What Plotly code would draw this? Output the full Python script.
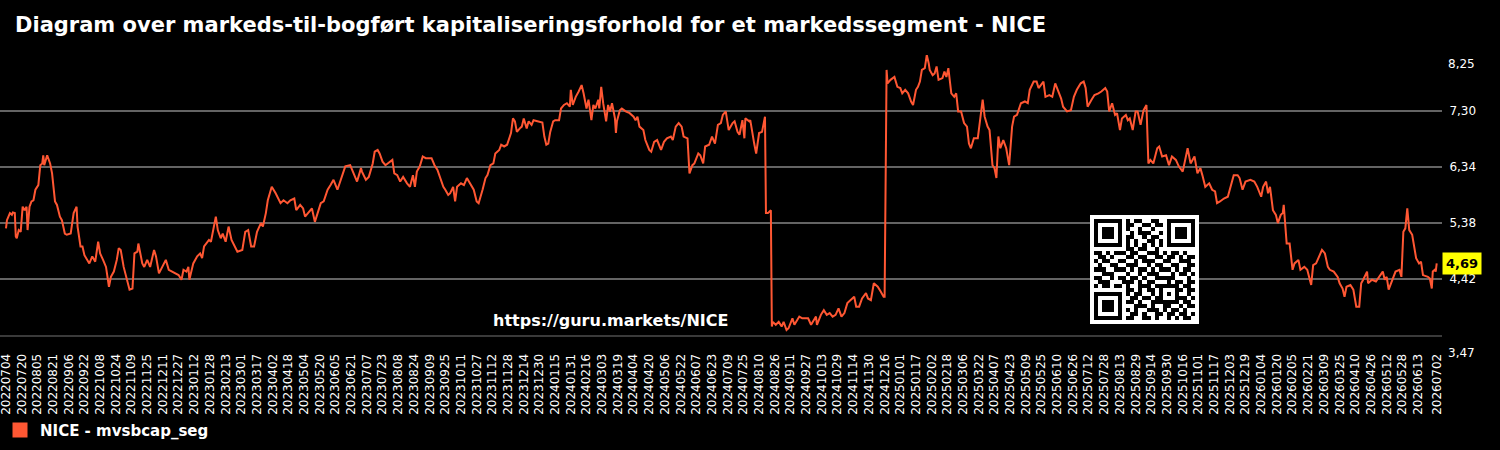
import numpy as np
import pandas as pd
import plotly.graph_objects as go

# ---------------- data ----------------
title_text = "Diagram over markeds-til-bogført kapitaliseringsforhold for et markedssegment - NICE"
series_name = "NICE - mvsbcap_seg"
start_date = "2022-07-04"
end_date = "2026-07-02"

# day offsets from start_date
day_offsets = [
    0, 1, 4, 6, 7, 9, 10, 11, 13, 15,
    17, 19, 21, 22, 24, 26, 28, 30, 33, 35,
    37, 38, 39, 42, 45, 47, 50, 52, 55, 57,
    60, 62, 66, 69, 72, 73, 76, 78, 80, 83,
    85, 88, 91, 94, 96, 99, 102, 105, 107, 110,
    113, 115, 117, 120, 124, 126, 129, 131, 134, 135,
    139, 141, 144, 147, 151, 153, 156, 159, 163, 166,
    169, 173, 176, 179, 181, 184, 186, 187, 189, 191,
    195, 198, 200, 202, 207, 209, 214, 216, 219, 221,
    224, 227, 230, 232, 236, 241, 244, 247, 250, 253,
    256, 260, 262, 265, 267, 271, 275, 280, 283, 287,
    290, 294, 296, 300, 303, 305, 309, 312, 315, 318,
    321, 324, 328, 331, 334, 338, 342, 346, 351, 355,
    358, 361,
    362, 363, 367, 370, 374, 376, 379, 381, 384, 387,
    391, 394, 396, 399, 402, 405, 409, 412, 415, 417,
    419, 422, 425, 428, 434, 437, 440, 443, 446, 448,
    451, 453, 456, 458, 460, 464, 467, 470, 474, 477,
    480, 482, 486, 489, 491, 494, 497, 499, 503, 505,
    508, 511, 515, 517, 519, 521, 524, 526, 528, 531,
    533, 536, 538, 542, 547, 549, 551, 553, 555, 558,
    560, 564, 566, 569, 572, 575, 576, 578, 581, 584,
    587, 589, 592, 594, 597, 599, 601, 604, 605, 607,
    609, 612, 614, 616, 618, 621, 622, 623, 626, 628,
    632, 636, 640, 642, 644, 646, 650, 652, 656, 658,
    661, 664, 668, 671, 674, 678, 680, 683, 686, 689,
    691, 695, 697, 700, 702, 706, 708, 711, 713, 717,
    720, 723, 726, 729,
    731, 734, 737, 741, 743, 746, 748, 751, 753, 754,
    758, 759, 762, 763, 765, 766, 768, 771, 774, 775,
    777, 780, 781, 782, 785, 788, 791, 793, 796, 798,
    802, 804, 809, 812, 818, 821, 826, 827, 831, 834,
    837, 840, 843, 846, 849, 852, 855, 858, 861, 865,
    867, 870, 873, 877, 879, 882, 885, 889, 892, 895,
    896, 898, 899, 902, 906, 909, 912, 914, 917, 920,
    923, 925, 928, 930, 932, 934, 937, 939, 941, 942,
    945, 947, 949, 951, 955, 957, 959, 961, 964, 967,
    969, 971, 974, 977, 980, 982, 984, 987, 991, 994,
    996, 998, 1001, 1003, 1006, 1008, 1010, 1012, 1014, 1017,
    1020, 1023, 1026, 1028, 1031, 1035, 1039, 1042, 1044, 1048,
    1051, 1053, 1058, 1060, 1064, 1067, 1070, 1076, 1078, 1082,
    1086, 1089, 1092, 1096,
    1099, 1101, 1103, 1107, 1110, 1114, 1117, 1121, 1123, 1125,
    1128, 1131, 1133, 1136, 1138, 1142, 1144, 1146, 1149, 1152,
    1154, 1157, 1160, 1163, 1165, 1167, 1170, 1174, 1176, 1179,
    1183, 1186, 1189, 1193, 1196, 1200, 1202, 1205, 1208, 1212,
    1215, 1218, 1220, 1223, 1227, 1230, 1233, 1235, 1238, 1242,
    1246, 1249, 1252, 1256, 1258, 1261, 1264, 1269, 1273, 1276,
    1280, 1282, 1285, 1287, 1289, 1292, 1295, 1297, 1300, 1302,
    1303, 1306, 1309, 1312, 1314, 1318, 1320, 1324, 1327, 1331,
    1333, 1336, 1339, 1342, 1345, 1348, 1350, 1354, 1358, 1360,
    1363, 1365, 1367, 1371, 1374, 1377, 1380, 1382, 1384, 1388,
    1389, 1393, 1397, 1400, 1404, 1406, 1408, 1410, 1414, 1417,
    1421, 1423, 1425, 1427, 1429, 1431, 1434, 1438, 1441, 1443,
    1445, 1450, 1452, 1454, 1455, 1457, 1458, 1459,
]

mvsbcap_seg = [
    5.29, 5.43, 5.55, 5.52, 5.56, 5.55, 5.15, 5.12, 5.26, 5.23,
    5.66, 5.60, 5.66, 5.26, 5.66, 5.75, 5.77, 5.95, 6.03, 6.37,
    6.40, 6.54, 6.37, 6.54, 6.40, 6.23, 5.75, 5.69, 5.49, 5.43,
    5.20, 5.18, 5.20, 5.55, 5.66, 5.32, 4.98, 4.98, 4.83, 4.75,
    4.69, 4.81, 4.72, 5.06, 4.86, 4.75, 4.63, 4.29, 4.46, 4.55,
    4.75, 4.95, 4.92, 4.63, 4.35, 4.24, 4.26, 4.86, 4.89, 5.03,
    4.69, 4.63, 4.75, 4.63, 4.92, 4.81, 4.52, 4.61, 4.75, 4.58,
    4.55, 4.52, 4.49, 4.41, 4.58, 4.55, 4.63, 4.41, 4.58, 4.69,
    4.81, 4.86, 4.78, 4.98, 5.09, 5.06, 5.49, 5.26, 5.12, 5.20,
    5.06, 5.32, 5.09, 5.03, 4.89, 4.92, 5.23, 5.26, 4.98, 4.98,
    5.23, 5.38, 5.32, 5.55, 5.77, 6.00, 5.89, 5.72, 5.77, 5.72,
    5.77, 5.80, 5.60, 5.69, 5.63, 5.49, 5.58, 5.63, 5.40, 5.58,
    5.72, 5.75, 5.95, 6.03, 6.12, 5.95, 6.15, 6.35, 6.37, 6.20,
    6.09, 6.26,
    6.32, 6.26, 6.12, 6.17, 6.40, 6.60, 6.63, 6.57, 6.43, 6.37,
    6.43, 6.46, 6.23, 6.20, 6.09, 6.17, 6.06, 6.00, 6.20, 6.00,
    6.26, 6.35, 6.52, 6.49, 6.49, 6.37, 6.29, 6.15, 6.00, 5.95,
    5.86, 5.89, 6.00, 5.75, 6.00, 6.06, 6.03, 6.15, 6.03, 5.95,
    5.75, 5.72, 5.95, 6.15, 6.20, 6.37, 6.40, 6.57, 6.63, 6.72,
    6.69, 6.72, 6.92, 7.17, 7.12, 6.94, 7.00, 7.03, 7.17, 7.00,
    7.12, 7.06, 7.14, 7.12, 7.10, 6.86, 6.72, 6.74, 6.94, 7.12,
    7.14, 7.14, 7.34, 7.40, 7.43, 7.37, 7.66, 7.40, 7.54, 7.63,
    7.74, 7.60, 7.34, 7.49, 7.14, 7.40, 7.34, 7.49, 7.34, 7.71,
    7.43, 7.12, 7.40, 7.29, 7.43, 7.17, 6.92, 7.12, 7.31, 7.34,
    7.29, 7.26, 7.20, 7.14, 7.20, 7.03, 6.97, 6.80, 6.63, 6.60,
    6.77, 6.80, 6.63, 6.77, 6.83, 6.86, 6.80, 7.03, 7.09, 7.03,
    6.86, 6.83, 6.23, 6.37, 6.40, 6.57, 6.54, 6.40, 6.69, 6.72,
    6.86, 6.74, 7.06, 7.09,
    7.23, 7.29, 6.97, 7.09, 7.12, 6.94, 6.89, 7.14, 6.83, 7.17,
    7.12, 7.14, 6.80, 6.74, 6.57, 6.69, 6.92, 6.94, 7.20, 5.55,
    5.55, 5.60, 3.61, 3.69, 3.64, 3.69, 3.61, 3.69, 3.55, 3.58,
    3.75, 3.64, 3.78, 3.75, 3.75, 3.64, 3.78, 3.64, 3.81, 3.89,
    3.81, 3.84, 3.78, 3.81, 3.92, 3.78, 3.84, 4.01, 4.06, 4.12,
    3.95, 3.95, 4.09, 4.18, 4.09, 4.06, 4.35, 4.29, 4.21, 4.12,
    4.12, 8.00, 7.77, 7.83, 7.88, 7.71, 7.69, 7.60, 7.66, 7.60,
    7.46, 7.40, 7.66, 7.71, 7.80, 8.00, 8.03, 8.255, 8.11, 8.00,
    7.91, 7.94, 8.06, 7.83, 7.86, 7.97, 7.88, 8.03, 7.60, 7.54,
    7.60, 7.29, 7.29, 7.09, 7.03, 6.74, 6.66, 6.83, 6.83, 7.23,
    7.49, 7.20, 7.03, 6.97, 6.37, 6.32, 6.15, 6.86, 6.66, 6.80,
    6.66, 6.37, 7.03, 7.20, 7.23, 7.43, 7.46, 7.43, 7.66, 7.80,
    7.80, 7.69, 7.80, 7.54, 7.57, 7.54, 7.77, 7.51, 7.37, 7.29,
    7.31, 7.54, 7.66, 7.77,
    7.80, 7.69, 7.37, 7.49, 7.57, 7.60, 7.63, 7.69, 7.63, 7.29,
    7.43, 7.23, 7.26, 6.97, 7.17, 7.23, 7.14, 7.17, 6.97, 7.29,
    7.29, 7.06, 7.31, 7.40, 6.40, 6.46, 6.40, 6.66, 6.69, 6.52,
    6.54, 6.37, 6.52, 6.46, 6.35, 6.26, 6.40, 6.66, 6.40, 6.52,
    6.23, 6.32, 6.20, 6.00, 6.06, 5.95, 5.92, 5.72, 5.75, 5.80,
    5.83, 6.00, 6.20, 6.20, 6.15, 5.95, 6.09, 6.12, 6.09, 6.00,
    5.83, 6.00, 6.09, 5.89, 6.00, 5.60, 5.52, 5.38, 5.52, 5.55,
    5.69, 5.03, 5.03, 4.58, 4.69, 4.75, 4.58, 4.63, 4.58, 4.32,
    4.66, 4.69, 4.81, 4.92, 4.86, 4.63, 4.58, 4.55, 4.46, 4.35,
    4.26, 4.12, 4.29, 4.32, 4.24, 3.95, 3.95, 4.35, 4.41, 4.55,
    4.35, 4.41, 4.38, 4.46, 4.55, 4.41, 4.46, 4.24, 4.41, 4.55,
    4.58, 4.46, 5.23, 5.29, 5.63, 5.26, 5.18, 4.78, 4.69, 4.72,
    4.49, 4.46, 4.43, 4.26, 4.55, 4.58, 4.55, 4.69,
]

y_min, y_max = 3.465, 8.255
y_tick_labels = ["3,47", "4,42", "5,38", "6,34", "7,30", "8,25"]
x_tick_dates = list(pd.date_range(start_date, "2026-06-13", freq="16D")) + [pd.Timestamp(end_date)]
x_tick_labels = [d.strftime("%Y%m%d") for d in x_tick_dates]

watermark = "https://guru.markets/NICE"

qr_rows = [
    "1111111010110011001111111",
    "1000001011001101101000001",
    "1011101010010010001011101",
    "1011101001011100101011101",
    "1011101011001011001011101",
    "1000001010100110101000001",
    "1111111010101010101111111",
    "0000000011011001000000000",
    "1101011101100111010110100",
    "0110100011011001101101011",
    "1011001100101110011001110",
    "0100110011100101100110011",
    "1110011101011010111010110",
    "0011100010010111000101101",
    "1100101101101001111100010",
    "0111000111010110001011011",
    "1011011010011101111110110",
    "0000000011010110100011011",
    "1111111010110010101010010",
    "1000001001101101100011101",
    "1011101011010011111110110",
    "1011101000111010011001011",
    "1011101010100111010110100",
    "1000001001101001101101101",
    "1111111011001101001010110",
]

line_color = "#ff5733"
font_family = "DejaVu Sans, Verdana, sans-serif"

# ---------------- figure ----------------
t0 = pd.Timestamp(start_date)
dates = [t0 + pd.Timedelta(days=int(d)) for d in day_offsets]

fig = go.Figure()
fig.add_trace(go.Scatter(
    x=dates, y=mvsbcap_seg, mode="lines",
    line=dict(color=line_color, width=2),
    showlegend=False, name=series_name,
    xaxis="x", yaxis="y",
))
fig.add_trace(go.Scatter(
    x=[None], y=[None], mode="markers",
    marker=dict(symbol="square", size=15, color=line_color),
    name=series_name, showlegend=True,
))

# QR code
qr = np.array([[int(c) for c in r] for r in qr_rows])
qr_full = np.zeros((qr.shape[0] + 2, qr.shape[1] + 2), dtype=int)
qr_full[1:-1, 1:-1] = qr
fig.add_trace(go.Heatmap(
    z=qr_full, colorscale=[[0, "white"], [1, "black"]], zmin=0, zmax=1,
    showscale=False, xaxis="x2", yaxis="y2", hoverinfo="skip",
))

tickvals = list(np.linspace(y_min, y_max, 6))
ticktext = [""] + y_tick_labels[1:-1] + [""]

x_range = [t0 - pd.Timedelta(days=6.1), t0 + pd.Timedelta(days=1464.4)]

fig.update_layout(
    width=1500, height=450,
    paper_bgcolor="black", plot_bgcolor="black",
    margin=dict(l=0, r=58, t=55, b=115),
    font=dict(family=font_family, color="white", size=12),
    title=dict(
        text=title_text, x=15 / 1500, xanchor="left", xref="container",
        y=1 - 25 / 450, yanchor="middle", yref="container",
        font=dict(size=21, color="white", family=font_family, weight="bold"),
    ),
    xaxis=dict(
        type="date", range=x_range, domain=[0, 1],
        tickvals=x_tick_dates, ticktext=x_tick_labels, tickangle=-90,
        tickfont=dict(size=12, color="white"),
        ticks="outside", ticklen=12, tickcolor="rgba(0,0,0,0)",
        ticklabeloverflow="allow",
        showgrid=False, zeroline=False,
        showline=True, linecolor="#3a3a3a", linewidth=2,
    ),
    yaxis=dict(
        range=[y_min, y_max], side="right",
        tickvals=tickvals, ticktext=ticktext,
        tickfont=dict(size=12, color="white"),
        ticks="outside", ticklen=4, tickcolor="rgba(0,0,0,0)",
        showgrid=True, gridcolor="#646464", gridwidth=2,
        zeroline=False, showline=False,
    ),
    xaxis2=dict(domain=[1090 / 1442, 1199 / 1442], anchor="y2",
                visible=False, range=[-0.5, qr_full.shape[1] - 0.5]),
    yaxis2=dict(domain=[(335 - 324) / 280, (335 - 215) / 280], anchor="x2",
                visible=False, range=[qr_full.shape[0] - 0.5, -0.5]),
    legend=dict(
        x=0.0, xanchor="left", y=-0.34, yanchor="middle",
        orientation="h", bgcolor="rgba(0,0,0,0)",
        font=dict(size=15, color="white", family=font_family, weight="bold"),
    ),
    showlegend=True,
)

annotations = [
    dict(x=1, xref="paper", xanchor="left", xshift=4, y=y_max, yref="y",
         yshift=-9, text=y_tick_labels[-1], showarrow=False,
         font=dict(size=12, color="white")),
    dict(x=1, xref="paper", xanchor="left", xshift=4, y=y_min, yref="y",
         yshift=-18, text=y_tick_labels[0], showarrow=False,
         font=dict(size=12, color="white")),
    dict(x=1, xref="paper", xanchor="left", y=mvsbcap_seg[-1], yref="y",
         text=f"{mvsbcap_seg[-1]:.2f}".replace(".", ","), showarrow=False,
         bgcolor="#ffff00", borderpad=3,
         font=dict(size=13, color="black", weight="bold")),
    dict(x=610 / 1442, xref="paper", xanchor="center", y=(335 - 320) / 280,
         yref="paper", yanchor="middle", text=watermark, showarrow=False,
         font=dict(size=16, color="white", weight="bold")),
]
fig.update_layout(annotations=annotations)

fig.write_html("out.html")
